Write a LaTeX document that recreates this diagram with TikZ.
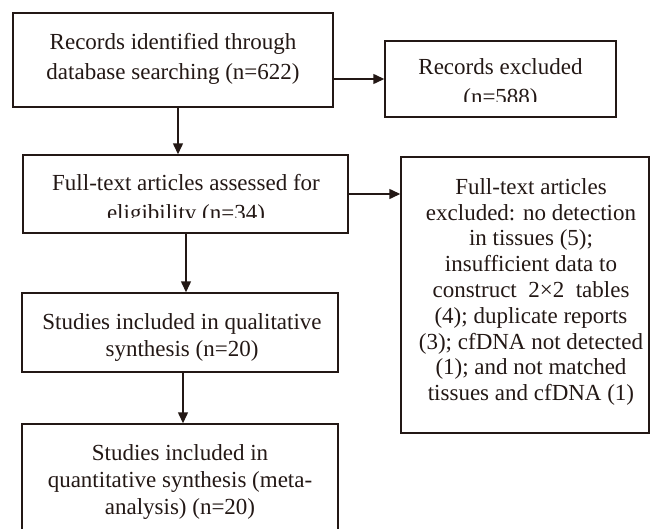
\documentclass[tikz,border=0pt]{standalone}
\usepackage{fontspec}
\setmainfont{Liberation Serif}
\usetikzlibrary{arrows.meta,calc}
\definecolor{ink}{HTML}{231815}
\begin{document}
\begin{tikzpicture}[x=1pt,y=-1pt,
  box/.style={draw=ink, line width=1.5pt, inner sep=0pt, fill=none},
  txt/.style={text=ink, align=center, inner sep=0pt, font=\fontsize{23}{30}\selectfont},
  txtd/.style={text=ink, align=center, inner sep=0pt, font=\fontsize{23}{25.8}\selectfont},
  txte/.style={text=ink, align=center, inner sep=0pt, font=\fontsize{23}{27}\selectfont},
  conn/.style={draw=ink, line width=1.5pt, -{Triangle[length=11pt,width=10pt]}}]
\path[use as bounding box, fill=white] (0,0) rectangle (651,528);
\clip (0,0) rectangle (651,528);
% boxes
\node[box, minimum width=320pt, minimum height=94pt] (A) at (173,60) {};
\node[box, minimum width=231pt, minimum height=76pt] (B) at (500.5,79) {};
\node[box, minimum width=325pt, minimum height=78pt] (C) at (185.5,194) {};
\node[box, minimum width=248pt, minimum height=276pt] (D) at (525,295) {};
\node[box, minimum width=316pt, minimum height=79pt] (E) at (180,332.5) {};
\node[box, minimum width=316pt, minimum height=116pt] (F) at (180,482) {};
% texts
\node[txt] (tA) at (173,59) {Records identified through\\database searching (n=622)};
\begin{scope}
\clip (386,42) rectangle (615,101.5);
\node[txt] (tB) at (500.5,84) {Records excluded\\(n=588)};
\end{scope}
\begin{scope}
\clip (24,156) rectangle (347,217.5);
\node[txt] (tC) at (186,200) {Full-text articles assessed for\\eligibility (n=34)};
\end{scope}
\node[txtd] (tD) at (531,292) {Full-text articles\\excluded: no detection\\in tissues (5);\\insufficient data to\\construct\ \ 2×2\ \ tables\\(4); duplicate reports\\(3); cfDNA not detected\\(1); and not matched\\tissues and cfDNA (1)};
\node[txte] (tE) at (182,337) {Studies included in qualitative\\synthesis (n=20)};
\node[txte] (tF) at (180,482) {Studies included in\\quantitative synthesis (meta-\\analysis) (n=20)};
% connectors
\coordinate (a1) at ($(A.south)+(5,0)$);
\coordinate (c1) at ($(C.south)+(0.5,0)$);
\coordinate (e1) at ($(E.south)+(3,0)$);
\draw[conn] (A.east |- B.west) -- (B.west);
\draw[conn] (a1) -- (a1 |- C.north);
\draw[conn] (C.east) -- (C.east -| D.west);
\draw[conn] (c1) -- (c1 |- E.north);
\draw[conn] (e1) -- (e1 |- F.north);
\end{tikzpicture}
\end{document}
